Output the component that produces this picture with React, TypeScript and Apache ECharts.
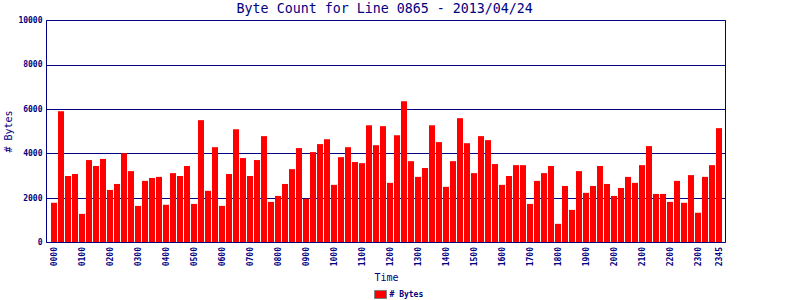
import React, { useEffect, useRef } from "react";
import * as echarts from "echarts";

const titleText = "Byte Count for Line 0865 - 2013/04/24";
const seriesName = "# Bytes";
const yAxisName = "# Bytes";
const xAxisName = "Time";

const times = [
  "0000", "0015", "0030", "0045", "0100", "0115", "0130", "0145",
  "0200", "0215", "0230", "0245", "0300", "0315", "0330", "0345",
  "0400", "0415", "0430", "0445", "0500", "0515", "0530", "0545",
  "0600", "0615", "0630", "0645", "0700", "0715", "0730", "0745",
  "0800", "0815", "0830", "0845", "0900", "0915", "0930", "0945",
  "1000", "1015", "1030", "1045", "1100", "1115", "1130", "1145",
  "1200", "1215", "1230", "1245", "1300", "1315", "1330", "1345",
  "1400", "1415", "1430", "1445", "1500", "1515", "1530", "1545",
  "1600", "1615", "1630", "1645", "1700", "1715", "1730", "1745",
  "1800", "1815", "1830", "1845", "1900", "1915", "1930", "1945",
  "2000", "2015", "2030", "2045", "2100", "2115", "2130", "2145",
  "2200", "2215", "2230", "2245", "2300", "2315", "2330", "2345",
];

const bytes = [
  1770, 5900, 2980, 3070, 1270, 3700, 3430, 3750, 2350, 2620, 4010, 3200, 1630, 2760, 2890, 2940,
  1680, 3110, 2980, 3430, 1720, 5500, 2310, 4280, 1630, 3070, 5090, 3790, 2980, 3700, 4780, 1810, 2080,
  2620, 3290, 4240, 1950, 4060, 4420, 4640, 2580, 3830, 4280, 3610, 3560, 5270, 4370, 5230, 2670, 4820,
  6350, 3650, 2940, 3340, 5270, 4510, 2490, 3650, 5590, 4460, 3110, 4780, 4600, 3520, 2580, 2980,
  3470, 3470, 1720, 2760,
  3110, 3430, 820, 2530, 1450, 3200, 2220, 2530, 3430, 2620, 2080, 2440, 2940, 2670, 3470, 4330,
  2170, 2170, 1810, 2760, 1770, 3020, 1320, 2940, 3470, 5140,
];

const yMin = 0;
const yMax = 10000;
const yStep = 2000;

const NAVY = "#000080";
const RED = "#ff0000";
const MONO = '"DejaVu Sans Mono", monospace';

export default function App() {
  const ref = useRef<HTMLDivElement>(null);
  useEffect(() => {
    if (!ref.current) return;
    const chart = echarts.init(ref.current, undefined, { renderer: "svg" });
    const smallBold = { color: NAVY, fontFamily: MONO, fontSize: 8, fontWeight: "bold" as const };
    chart.setOption({
      animation: false,
      backgroundColor: "#ffffff",
      graphic: [
        {
          type: "text",
          x: 384.7,
          y: 2,
          style: {
            text: titleText,
            fill: NAVY,
            font: `13.3px ${MONO}`,
            align: "center",
            verticalAlign: "top",
          },
        },
      ],
      legend: {
        data: [seriesName],
        left: 374,
        top: 290,
        padding: 0,
        itemWidth: 12,
        itemHeight: 8,
        icon: "rect",
        itemStyle: { borderColor: "#808080", borderWidth: 1 },
        textStyle: { ...smallBold, padding: [0, 0, 0, -2] },
      },
      grid: [
        {
          left: 46.5,
          top: 20.5,
          width: 679,
          height: 222,
          show: true,
          borderColor: NAVY,
          borderWidth: 1,
          backgroundColor: "transparent",
          z: 5,
          containLabel: false,
          outerBoundsMode: "none",
        },
        {
          left: 50.5,
          top: 20.5,
          width: 672,
          height: 221.5,
          containLabel: false,
          outerBoundsMode: "none",
        },
      ],
      xAxis: [
        { gridIndex: 0, type: "value", min: 0, max: 1, show: false },
        {
          gridIndex: 1,
          type: "category",
          data: times,
          axisLine: { show: false },
          axisTick: { show: false },
          splitLine: { show: false },
          axisLabel: {
            ...smallBold,
            rotate: 90,
            margin: 5,
            interval: (i: number) => i % 4 === 0 || i === times.length - 1,
          },
          name: xAxisName,
          nameLocation: "middle",
          nameGap: 30,
          nameMoveOverlap: false,
          nameTextStyle: { color: NAVY, fontFamily: MONO, fontSize: 10 },
        },
      ],
      yAxis: [
        {
          gridIndex: 0,
          type: "value",
          min: yMin,
          max: yMax,
          interval: yStep,
          axisLine: { show: false },
          axisTick: { show: false },
          splitLine: { show: true, lineStyle: { color: NAVY, width: 1 } },
          axisLabel: { ...smallBold, margin: 4, formatter: (v: number) => String(v) },
          name: yAxisName,
          nameLocation: "middle",
          nameGap: 33,
          nameMoveOverlap: false,
          nameTextStyle: { color: NAVY, fontFamily: MONO, fontSize: 10 },
        },
        {
          gridIndex: 1,
          type: "value",
          min: yMin,
          max: yMax,
          interval: yStep,
          show: false,
        },
      ],
      series: [
        {
          name: seriesName,
          type: "bar",
          xAxisIndex: 1,
          yAxisIndex: 1,
          data: bytes,
          barWidth: 6,
          itemStyle: { color: RED },
        },
      ],
    });
    return () => chart.dispose();
  }, []);
  return (
    <div
      ref={ref}
      style={{ position: "fixed", left: 0, top: 0, width: 800, height: 300 }}
    />
  );
}
